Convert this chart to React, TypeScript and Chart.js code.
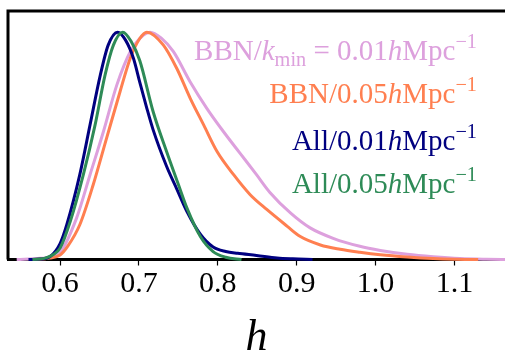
import React, { useEffect, useRef } from "react";
import { Chart, registerables } from "chart.js";

Chart.register(...registerables);

// ---- data ----
const hTicks = [0.6, 0.7, 0.8, 0.9, 1.0, 1.1];
const hMin = 0.534;
const hMax = 1.164;
const yMax = 1.093;

const plumH = [0.545, 0.575, 0.59, 0.6, 0.621, 0.638, 0.655, 0.672, 0.689, 0.7056, 0.714, 0.728, 0.7437, 0.7648, 0.786, 0.807, 0.828, 0.849, 0.866, 0.892, 0.917, 0.947, 0.98, 1.006, 1.04, 1.073, 1.107, 1.14, 1.17];
const plumD = [0, 0.005, 0.012, 0.03, 0.183, 0.373, 0.563, 0.768, 0.914, 0.987, 1.0, 0.975, 0.914, 0.782, 0.665, 0.563, 0.468, 0.373, 0.295, 0.205, 0.139, 0.092, 0.058, 0.04, 0.023, 0.012, 0.004, 0.001, 0];

const coralH = [0.565, 0.587, 0.6, 0.61, 0.625, 0.642, 0.659, 0.676, 0.689, 0.701, 0.71, 0.731, 0.748, 0.765, 0.782, 0.799, 0.82, 0.841, 0.862, 0.888, 0.904, 0.93, 0.955, 0.98, 1.006, 1.04, 1.073, 1.1, 1.13];
const coralD = [0, 0.006, 0.02, 0.06, 0.153, 0.329, 0.534, 0.738, 0.885, 0.972, 1.0, 0.943, 0.84, 0.709, 0.592, 0.475, 0.373, 0.285, 0.22, 0.146, 0.102, 0.064, 0.045, 0.032, 0.021, 0.011, 0.004, 0.001, 0];

const navyH = [0.56, 0.575, 0.587, 0.6, 0.6085, 0.625, 0.638, 0.651, 0.661, 0.673, 0.683, 0.693, 0.701, 0.71, 0.718, 0.735, 0.748, 0.761, 0.778, 0.794, 0.81, 0.825, 0.849, 0.875, 0.895, 0.92];
const navyD = [0, 0.002, 0.012, 0.07, 0.153, 0.373, 0.592, 0.811, 0.943, 1.0, 0.965, 0.885, 0.78, 0.665, 0.57, 0.41, 0.31, 0.21, 0.11, 0.055, 0.035, 0.027, 0.018, 0.007, 0.003, 0];

const greenH = [0.565, 0.58, 0.5915, 0.6, 0.613, 0.6295, 0.6444, 0.657, 0.6676, 0.6795, 0.69, 0.701, 0.718, 0.735, 0.75, 0.761, 0.778, 0.794, 0.81, 0.83];
const greenD = [0, 0.005, 0.022, 0.05, 0.168, 0.373, 0.592, 0.811, 0.943, 1.0, 0.96, 0.875, 0.65, 0.475, 0.33, 0.225, 0.1, 0.035, 0.01, 0];

// legend labels as rich-text segments: [text, style]
const labelBBN01: [string, string][] = [["BBN/", "r"], ["k", "i"], ["min", "sub"], [" = ", "r"], ["0.01", "r"], ["h", "i"], ["Mpc", "r"], ["\u22121", "sup"]];
const labelBBN05: [string, string][] = [["BBN/0.05", "r"], ["h", "i"], ["Mpc", "r"], ["\u22121", "sup"]];
const labelAll01: [string, string][] = [["All/0.01", "r"], ["h", "i"], ["Mpc", "r"], ["\u22121", "sup"]];
const labelAll05: [string, string][] = [["All/0.05", "r"], ["h", "i"], ["Mpc", "r"], ["\u22121", "sup"]];

const SERIF = '"Liberation Serif", "Times New Roman", serif';

function pts(xs: number[], ys: number[]) {
  return xs.map((x, i) => ({ x, y: ys[i] }));
}

const series = [
  { label: labelBBN01, color: "#DDA0DD", data: pts(plumH, plumD), order: 4 },
  { label: labelBBN05, color: "#FF7F50", data: pts(coralH, coralD), order: 3 },
  { label: labelAll01, color: "#000080", data: pts(navyH, navyD), order: 2 },
  { label: labelAll05, color: "#2E8B57", data: pts(greenH, greenD), order: 1 },
];

const legendBaselines = [60, 103, 150, 193];
const legendRight = 477;
const legendSize = 29;

const framePlugin = {
  id: "frame",
  afterDraw(chart: any) {
    const { ctx, chartArea } = chart;
    ctx.save();
    ctx.strokeStyle = "#000";
    ctx.lineWidth = 3;
    ctx.beginPath();
    ctx.moveTo(chartArea.left, chartArea.bottom);
    ctx.lineTo(chartArea.left, chartArea.top);
    ctx.lineTo(chartArea.right + 5, chartArea.top);
    ctx.stroke();

    // legend text
    series.forEach((s, idx) => {
      const segs = s.label;
      const fontFor = (st: string) => {
        const sz = st === "sub" || st === "sup" ? legendSize * 0.7 : legendSize;
        return `${st === "i" ? "italic " : ""}${sz}px ${SERIF}`;
      };
      let total = 0;
      const widths = segs.map(([t, st]) => {
        ctx.font = fontFor(st);
        const w = ctx.measureText(t).width;
        total += w;
        return w;
      });
      let x = legendRight - total;
      const base = legendBaselines[idx];
      ctx.fillStyle = s.color;
      ctx.textBaseline = "alphabetic";
      ctx.textAlign = "left";
      segs.forEach(([t, st], i) => {
        ctx.font = fontFor(st);
        let y = base;
        if (st === "sub") y += legendSize * 0.2;
        if (st === "sup") y -= legendSize * 0.42;
        ctx.fillText(t, x, y);
        x += widths[i];
      });
    });
    ctx.restore();
  },
};

export default function App() {
  const ref = useRef<HTMLCanvasElement>(null);
  useEffect(() => {
    const chart = new Chart(ref.current!, {
      type: "line",
      data: {
        datasets: series.map((s) => ({
          label: s.label.map((p) => p[0]).join(""),
          data: s.data,
          borderColor: s.color,
          backgroundColor: s.color,
          borderWidth: 3,
          pointRadius: 0,
          cubicInterpolationMode: "monotone" as const,
          fill: false,
          clip: 8,
          order: s.order,
        })),
      },
      options: {
        animation: false,
        responsive: false,
        maintainAspectRatio: false,
        layout: { padding: { left: 8, top: 11, right: 0, bottom: 0 } },
        plugins: { legend: { display: false }, tooltip: { enabled: false } },
        scales: {
          x: {
            type: "linear",
            min: hMin,
            max: hMax,
            afterBuildTicks: (scale: any) => {
              scale.ticks = hTicks.map((v) => ({ value: v }));
            },
            ticks: {
              color: "#000",
              padding: 1,
              maxRotation: 0,
              autoSkip: false,
              font: { family: SERIF, size: 30, lineHeight: 1.15 },
              callback: (v: any) => Number(v).toFixed(1),
            },
            grid: {
              display: true,
              drawOnChartArea: false,
              drawTicks: true,
              tickLength: 6,
              tickWidth: 1.2,
              tickColor: "#000",
            },
            border: { display: true, color: "#000", width: 3 },
            title: {
              display: true,
              text: "h",
              color: "#000",
              font: { family: SERIF, size: 44, style: "italic", lineHeight: 1 },
              padding: { top: 14, bottom: -4 },
            },
          },
          y: { display: false, min: 0, max: yMax },
        },
      },
      plugins: [framePlugin],
    });
    return () => chart.destroy();
  }, []);
  return (
    <div style={{ position: "fixed", left: 0, top: 0, width: 505, height: 356, background: "#fff" }}>
      <canvas ref={ref} width={505} height={356} style={{ width: 505, height: 356, display: "block" }} />
    </div>
  );
}
